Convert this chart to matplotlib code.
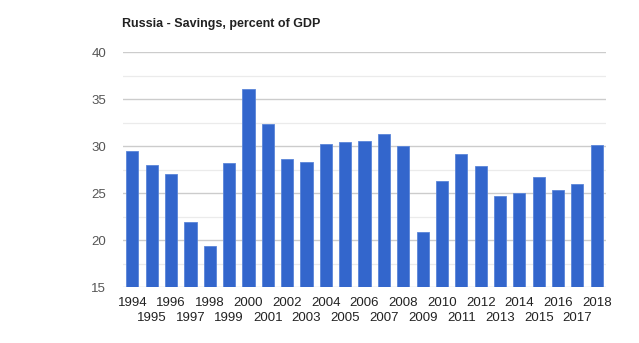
import matplotlib
matplotlib.use("Agg")
import matplotlib.pyplot as plt
import numpy as np

plt.rcParams['font.family'] = ['Liberation Sans', 'DejaVu Sans']

years = list(range(1994, 2019))
savings = [29.5, 28.0, 27.1, 21.9, 19.4, 28.2, 36.1, 32.4, 28.7, 28.3, 30.2,
           30.5, 30.6, 31.3, 30.0, 20.9, 26.3, 29.2, 27.9, 24.7, 25.0, 26.7,
           25.3, 26.0, 30.1]
title = "Russia - Savings, percent of GDP"
yticks = [15, 20, 25, 30, 35, 40]

fig = plt.figure(figsize=(6.39, 3.43), dpi=100)
ax = fig.add_axes([0.192, 0.1624, 0.757, 0.685])

x = np.arange(len(years))
ax.bar(x, savings, width=0.63, color='#3366cc', edgecolor='#5a85d9',
       linewidth=0.6, zorder=3)

ax.set_xlim(-0.5, len(years) - 0.5)
ax.set_ylim(15, 40)
ax.set_yticks(yticks)
ax.set_yticklabels([str(t) for t in yticks], fontsize=9.5, color='#555555')
for m in np.arange(17.5, 40, 5):
    ax.axhline(m, color='#ebebeb', linewidth=0.9, zorder=1)
for t in yticks:
    ax.axhline(t, color='#cccccc', linewidth=1.0, zorder=1)
ax.tick_params(axis='y', which='both', length=0, pad=12)

even = x[0::2]
odd = x[1::2]
ax.set_xticks(even)
ax.set_xticklabels([str(years[i]) for i in even], fontsize=9.5, color='#222222')
ax.set_xticks(odd, minor=True)
ax.set_xticklabels([str(years[i]) for i in odd], minor=True, fontsize=9.5,
                   color='#222222')
ax.tick_params(axis='x', which='major', length=0, pad=7)
ax.tick_params(axis='x', which='minor', length=0, pad=18)

for s in ax.spines.values():
    s.set_visible(False)

fig.text(122 / 639, 1 - 24 / 343, title, fontsize=9, fontweight='bold',
         color='#222222', va='center', ha='left')

fig.savefig("out.png", dpi=100)
